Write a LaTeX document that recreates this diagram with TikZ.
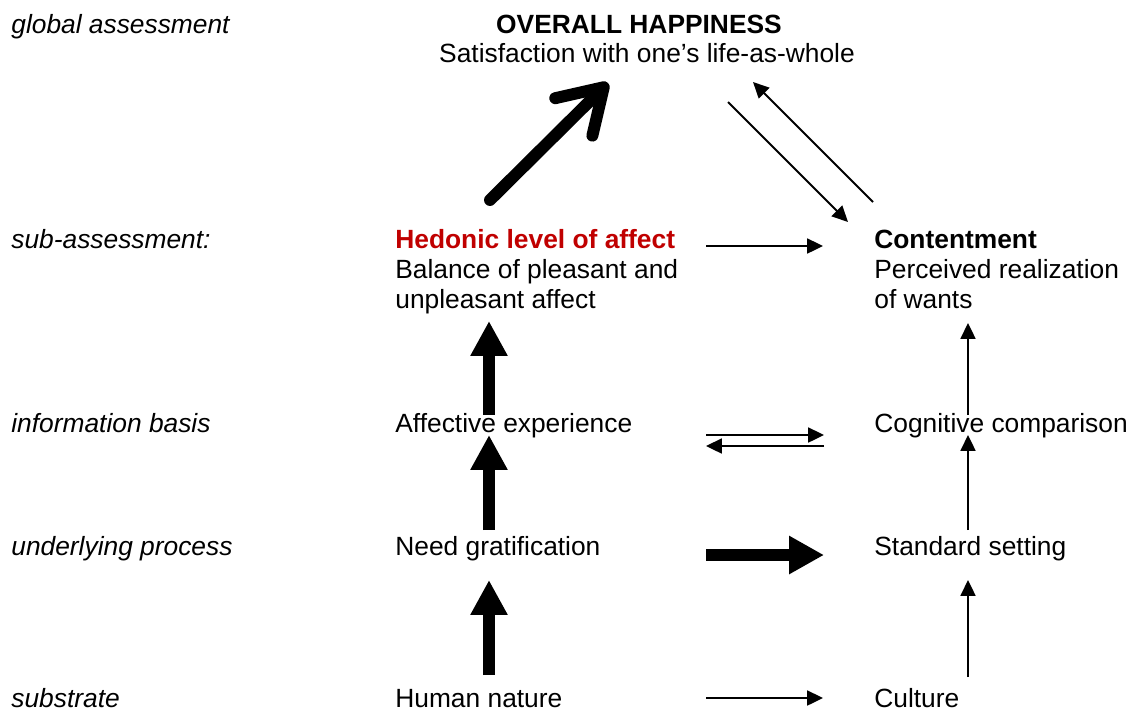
\documentclass[tikz,border=0pt]{standalone}
\usepackage{fontspec}
\setmainfont{Liberation Sans}
\usetikzlibrary{arrows.meta}
\definecolor{hedred}{RGB}{192,0,0}
\newcommand\diafont{\fontsize{15pt}{17pt}\selectfont}
\tikzset{
  txt/.style={anchor=base west, inner sep=0pt, font=\diafont},
  lvl/.style={txt, font=\diafont\itshape},
  hd/.style={txt, font=\diafont\bfseries},
  slimarrow/.style={line width=1.1pt, -{Triangle[length=9pt,width=8.5pt]}},
  fatarrow/.style={line width=6.8pt, -{Triangle[length=19.8pt,width=19.8pt]}},
  widearrow/.style={line width=7.2pt, -{Triangle[length=19.8pt,width=20.4pt]}},
  barbarrow/.style={line width=6.8pt, line cap=round, line join=round,
    -{Straight Barb[length=24pt,width=30pt,round]}}
}
\begin{document}
\begin{tikzpicture}[x=0.02cm,y=-0.02cm]
\useasboundingbox (0,0) rectangle (1131,711);
\foreach \y/\t [count=\i] in {33/global assessment,248/sub-assessment:,432/information basis,555/underlying process,707/substrate}
  \node[lvl] (lev\i) at (11,\y) {\t};

\node[hd,anchor=base] (happy) at (639,33) {OVERALL HAPPINESS};
\node[txt,anchor=base] (life) at (647,62) {Satisfaction with one’s life-as-whole};

\node[hd,text=hedred] (hedonic) at (395,248) {Hedonic level of affect};
\node[txt] (balance) at (395,278) {Balance of pleasant and};
\node[txt] (unpl) at (395,308) {unpleasant affect};
\node[txt] (affect) at (395,432) {Affective experience};
\node[txt] (need) at (395,555) {Need gratification};
\node[txt] (human) at (395,707) {Human nature};

\node[hd] (content) at (874,248) {Contentment};
\node[txt] (perc) at (874,278) {Perceived realization};
\node[txt] (wants) at (874,308) {of wants};
\node[txt] (cognit) at (874,432) {Cognitive comparison};
\node[txt] (standard) at (874,555) {Standard setting};
\node[txt] (culture) at (874,707) {Culture};

\draw[barbarrow] ([shift={(95,-48)}]hedonic.base west) -- ([shift={(-39,21)}]life.base);
\draw[slimarrow] ([shift={(81,40)}]life.base) -- ([shift={(-26,-26)}]content.base west);
\draw[slimarrow] ([shift={(-1,-46)}]content.base west) -- ([shift={(106,20)}]life.base);

\draw[slimarrow] ([shift={(311,-2)}]hedonic.base west) -- ([shift={(-51,-2)}]content.base west);
\draw[slimarrow] ([shift={(311,3)}]affect.base west) -- ([shift={(-50,3)}]cognit.base west);
\draw[slimarrow] ([shift={(-50,14)}]cognit.base west) -- ([shift={(311,14)}]affect.base west);
\draw[widearrow] ([shift={(311,0)}]need.base west) -- ([shift={(-50,0)}]standard.base west);
\draw[slimarrow] ([shift={(311,-9)}]human.base west) -- ([shift={(-51,-9)}]culture.base west);

\foreach \a/\b/\s/\e in {affect/unpl/-17/13,need/affect/-25/3,human/need/-32/25}
  \draw[fatarrow] ([shift={(94,\s)}]\a.base west) -- ([shift={(94,\e)}]\b.base west);
\foreach \a/\b/\s/\e in {cognit/wants/-17/15,standard/cognit/-25/3,culture/standard/-30/25}
  \draw[slimarrow] ([shift={(94,\s)}]\a.base west) -- ([shift={(94,\e)}]\b.base west);
\end{tikzpicture}
\end{document}
